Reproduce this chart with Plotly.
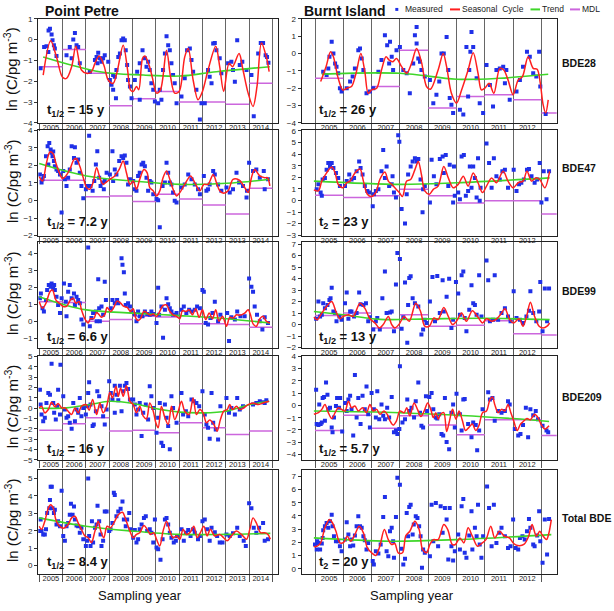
import plotly.graph_objects as go

FONT = "Liberation Sans, Arial, sans-serif"

years_pp = list(range(2005, 2015))
years_bi = list(range(2005, 2014))

# ---------------- Point Petre, BDE28 ----------------
pp28_meas = [(2005.06,-1.38),(2005.21,-0.35),(2005.31,-0.32),(2005.4,0.44),(2005.46,0.52),(2005.53,0.25),(2005.57,-0.03),(2005.63,-0.27),(2005.67,-0.43),(2005.74,-0.79),(2005.39,-0.59),
(2006.17,-0.75),(2006.31,-0.35),(2006.46,0.0),(2006.53,0.32),(2006.6,-0.27),(2006.67,-0.35),(2006.74,-1.14),(2006.39,-0.9),
(2007.17,-1.54),(2007.39,-0.98),(2007.46,-0.83),(2007.53,-0.63),(2007.6,-0.9),(2007.67,-1.06),(2007.74,-0.9),(2007.81,-0.75),(2007.5,-1.14),
(2007.96,-1.06),(2008.03,-1.94),(2008.1,-2.17),(2008.17,-1.7),(2008.24,-1.78),(2008.31,-1.46),(2008.39,-0.83),(2008.46,-0.67),(2008.53,-0.03),(2008.6,0.05),(2008.67,-0.03),(2008.71,-0.51),(2008.77,-1.22),(2008.81,-1.94),(2008.89,-2.25),(2008.96,-2.81),(2008.29,-2.81),(2008.17,-2.41),
(2009.1,-1.94),(2009.2,-1.54),(2009.31,-1.14),(2009.43,-0.51),(2009.53,-0.9),(2009.6,-1.3),(2009.67,-1.06),(2009.74,-1.46),(2009.81,-2.1),(2009.89,-2.41),(2009.31,-2.89),(2009.96,-2.97),
(2010.1,-3.05),(2010.17,-2.41),(2010.31,-1.46),(2010.39,-0.67),(2010.46,0.16),(2010.53,-0.27),(2010.6,-0.51),(2010.67,-1.14),(2010.74,-1.7),(2010.81,-2.1),(2010.89,-3.05),(2010.24,-2.89),
(2011.1,-2.73),(2011.24,-1.86),(2011.34,-0.51),(2011.46,-0.43),(2011.53,-0.98),(2011.6,-1.54),(2011.74,-2.41),(2011.89,-3.84),(2011.96,-3.05),
(2012.1,-3.05),(2012.24,-1.46),(2012.31,-1.78),(2012.39,-2.1),(2012.46,-0.19),(2012.53,-0.16),(2012.6,-0.51),(2012.74,-0.9),(2012.81,-1.62),
(2013.1,-1.14),(2013.24,-1.06),(2013.31,-1.46),(2013.39,-2.02),(2013.49,-0.03),(2013.6,-1.22),(2013.71,-1.06),(2013.89,-1.46),
(2014.1,-1.7),(2014.2,-3.68),(2014.39,-0.67),(2014.5,-0.16),(2014.6,-0.16),(2014.71,-0.75),(2014.77,-0.83),(2014.83,-1.11)]
pp28_seas = [(2005.17,-1.7),(2005.49,-0.06),(2005.74,-0.83),(2006.0,-1.81),(2006.17,-1.86),(2006.39,-1.3),(2006.57,-0.32),(2006.81,-1.46),(2007.03,-1.62),(2007.24,-1.54),
(2007.39,-1.14),(2007.57,-0.79),(2007.77,-1.22),(2007.96,-1.94),(2008.17,-2.1),(2008.34,-1.54),(2008.6,-0.27),(2008.79,-1.46),(2008.91,-2.41),(2009.03,-2.49),(2009.17,-2.25),(2009.27,-2.41),
(2009.43,-0.9),(2009.53,-0.79),(2009.71,-1.22),(2009.86,-1.86),(2010.03,-2.57),(2010.2,-2.41),(2010.46,-0.51),(2010.63,-1.78),(2010.81,-2.57),(2011.0,-2.49),(2011.24,-0.83),(2011.39,-0.43),
(2011.6,-1.94),(2011.81,-2.89),(2012.0,-2.49),(2012.24,-1.46),(2012.57,-0.32),(2012.74,-1.3),(2012.91,-2.49),(2013.14,-1.14),(2013.29,-1.3),(2013.57,-0.67),(2013.74,-1.46),(2013.96,-2.57),
(2014.17,-3.21),(2014.34,-2.25),(2014.53,-0.16),(2014.74,-0.83),(2014.86,-1.54)]
pp28_trend = [(2005.17,-0.83),(2007.6,-1.54),(2009.46,-1.7),(2011.03,-1.75),(2012.6,-1.54),(2014.89,-1.3)]
pp28_mdl = [-1.30,-0.48,-1.62,-3.17,-2.84,-2.49,-3.0,-3.0,-3.1,-2.1]

# ---------------- Burnt Island, BDE28 ----------------
bi28_meas = [(2005.29,-1.05),(2005.41,-1.24),(2005.51,-0.19),(2005.59,0.67),(2005.65,0.0),(2005.71,-0.57),(2005.76,-0.76),(2005.82,-1.14),(2005.88,-2.0),(2005.94,-2.19),(2005.47,-0.86),
(2006.12,-2.0),(2006.24,-1.62),(2006.33,-1.33),(2006.41,-0.86),(2006.53,0.19),(2006.59,0.29),(2006.65,-0.29),(2006.71,-0.95),(2006.82,-2.29),(2006.94,-2.19),
(2007.06,-2.0),(2007.24,-1.05),(2007.35,-0.38),(2007.47,1.05),(2007.55,0.48),(2007.62,-0.57),(2007.71,-0.19),(2007.76,-0.95),(2007.88,0.19),(2008.0,0.38),(2007.65,0.67),
(2008.12,-0.95),(2008.24,-1.14),(2008.35,-2.29),(2008.47,-0.57),(2008.53,1.05),(2008.59,0.57),(2008.65,-0.29),(2008.71,-0.48),(2008.76,-0.95),(2008.59,1.52),(2008.88,-1.33),
(2009.06,-1.52),(2009.18,-2.86),(2009.29,-2.38),(2009.39,-1.62),(2009.47,0.0),(2009.55,0.0),(2009.65,0.95),(2009.71,-0.95),(2009.76,-2.57),(2009.88,-3.43),(2009.82,-2.95),
(2010.12,-3.24),(2010.24,-3.52),(2010.35,0.38),(2010.45,-0.95),(2010.49,0.1),(2010.53,1.24),(2010.59,0.38),(2010.71,-1.43),(2010.82,-2.86),(2010.94,-3.43),(2010.41,-2.48),
(2011.06,-0.67),(2011.18,-1.81),(2011.29,-3.05),(2011.41,-0.95),(2011.53,-0.86),(2011.65,-0.76),(2011.76,-0.95),(2011.88,-2.67),(2011.71,-1.71),
(2012.12,-2.19),(2012.24,-1.52),(2012.35,-0.76),(2012.49,0.1),(2012.59,-0.19),(2012.71,-1.14),(2012.82,-1.33),(2012.92,0.1),(2012.96,-1.9),(2013.15,-3.49)]
bi28_seas = [(2005.2,-1.62),(2005.39,-0.76),(2005.55,0.1),(2005.65,-0.19),(2005.82,-1.43),(2005.98,-2.1),(2006.12,-2.0),(2006.29,-1.9),(2006.45,-1.14),(2006.62,0.0),(2006.76,-1.05),
(2006.88,-2.29),(2007.0,-2.1),(2007.18,-2.0),(2007.35,-0.95),(2007.51,-0.19),(2007.62,-0.38),(2007.74,-0.48),(2007.88,-0.29),(2008.06,-0.76),(2008.24,-1.14),(2008.41,-0.57),
(2008.59,0.29),(2008.76,-0.48),(2008.94,-1.9),(2009.08,-2.06),(2009.35,-0.95),(2009.53,0.0),(2009.65,-0.76),(2009.82,-2.29),(2010.0,-2.86),(2010.18,-2.1),(2010.41,-0.95),
(2010.59,0.04),(2010.76,-1.14),(2010.88,-2.1),(2011.0,-2.0),(2011.15,-1.71),(2011.32,-2.29),(2011.53,-0.86),(2011.67,-0.95),(2011.82,-1.52),(2012.0,-2.38),(2012.18,-1.52),
(2012.33,-1.33),(2012.53,-0.19),(2012.71,-0.86),(2012.85,-0.91),(2012.96,-1.71),(2013.06,-2.95),(2013.15,-3.43),(2013.24,-2.67)]
bi28_trend = [(2005.24,-1.19),(2008.0,-1.14),(2010.0,-1.48),(2011.5,-1.43),(2013.24,-1.2)]
bi28_mdl = [-1.43,None,-1.9,0.19,-3.14,-2.48,-2.38,-2.67,-3.43]

# ---------------- Point Petre, BDE47 ----------------
pp47_meas = [(2005.03,1.49),(2005.1,1.02),(2005.14,1.21),(2005.2,1.4),(2005.29,2.53),(2005.36,3.09),(2005.43,3.28),(2005.49,2.91),(2005.53,2.72),(2005.57,2.53),(2005.63,2.25),(2005.67,1.96),(2005.74,1.77),(2005.81,1.68),(2005.89,1.49),(2005.39,2.06),(2005.6,2.8),
(2006.03,1.68),(2006.1,1.21),(2006.17,0.83),(2006.31,1.77),(2006.39,3.09),(2006.49,2.43),(2006.53,3.04),(2006.6,2.15),(2006.67,2.34),(2006.74,1.58),(2006.81,0.83),(2006.89,0.13),(2005.96,-0.68),(2006.24,1.3),
(2007.0,0.64),(2007.06,0.83),(2007.14,3.7),(2007.2,0.83),(2007.29,0.55),(2007.36,1.11),(2007.43,2.06),(2007.49,2.81),(2007.57,1.3),(2007.63,0.83),(2007.71,1.02),(2007.81,1.11),(2007.89,1.58),(2007.77,0.64),
(2008.03,1.49),(2008.14,2.81),(2008.24,1.77),(2008.31,1.49),(2008.43,2.25),(2008.53,2.53),(2008.6,2.43),(2008.67,2.57),(2008.74,2.15),(2008.81,0.92),(2008.89,1.21),(2008.17,1.11),
(2009.03,1.11),(2009.1,0.64),(2009.17,0.55),(2009.24,1.4),(2009.31,1.58),(2009.39,2.06),(2009.46,2.15),(2009.53,1.96),(2009.6,1.3),(2009.67,0.55),(2009.74,1.11),(2009.81,1.02),(2009.89,0.36),
(2010.03,0.08),(2010.1,0.02),(2010.17,-1.53),(2010.29,0.83),(2010.39,1.02),(2010.46,2.15),(2010.53,1.58),(2010.6,1.02),(2010.67,0.92),(2010.74,0.45),(2010.81,-0.02),(2010.89,-0.11),
(2011.1,0.74),(2011.24,0.92),(2011.39,1.49),(2011.53,1.21),(2011.67,0.92),(2011.81,0.64),(2011.89,0.36),
(2012.06,1.4),(2012.17,0.55),(2012.24,0.64),(2012.31,0.92),(2012.46,1.68),(2012.53,1.49),(2012.67,0.92),(2012.81,0.55),
(2013.03,0.74),(2013.17,0.45),(2013.31,0.64),(2013.46,1.58),(2013.57,1.02),(2013.74,0.83),(2013.89,0.17),(2013.91,0.55),
(2014.0,2.15),(2014.17,1.68),(2014.31,1.77),(2014.46,1.3),(2014.63,1.68),(2014.67,0.64),(2014.81,1.21)]
pp47_seas = [(2005.0,1.36),(2005.14,1.11),(2005.31,2.15),(2005.46,2.77),(2005.6,2.66),(2005.71,2.15),(2005.86,1.58),(2006.0,1.25),(2006.14,1.4),(2006.31,1.77),(2006.49,2.34),
(2006.6,2.38),(2006.74,1.96),(2006.93,1.11),(2007.03,0.74),(2007.17,0.64),(2007.31,1.02),(2007.46,1.87),(2007.6,1.3),(2007.74,0.92),(2007.89,1.06),(2008.03,1.21),(2008.24,1.4),
(2008.43,1.77),(2008.6,2.25),(2008.74,1.58),(2008.89,0.92),(2009.03,1.11),(2009.17,0.64),(2009.31,1.21),(2009.49,1.77),(2009.63,1.58),(2009.74,0.74),(2009.89,0.55),(2010.03,0.26),
(2010.17,0.55),(2010.31,1.3),(2010.46,1.68),(2010.6,1.21),(2010.74,0.64),(2010.89,0.26),(2011.03,0.45),(2011.24,0.92),(2011.49,1.4),(2011.67,1.02),(2011.89,0.55),(2012.06,0.92),
(2012.24,0.92),(2012.46,1.49),(2012.6,1.02),(2012.74,0.55),(2012.91,0.42),(2013.1,0.55),(2013.31,1.21),(2013.57,1.17),(2013.81,0.74),(2013.96,0.45),(2014.1,1.3),(2014.24,1.77),
(2014.46,1.4),(2014.67,1.3),(2014.79,1.3),(2014.89,0.83)]
pp47_trend = [(2005.0,2.11),(2007.03,1.4),(2009.03,1.11),(2011.03,0.92),(2013.03,0.98),(2014.89,1.21)]
pp47_mdl = [1.15,1.15,0.21,0.26,-0.06,0.36,0.08,-0.26,-0.77,0.7]

# ---------------- Burnt Island, BDE47 ----------------
bi47_meas = [(2005.06,0.96),(2005.12,1.39),(2005.2,0.68),(2005.27,1.81),(2005.35,1.95),(2005.41,2.66),(2005.47,3.23),(2005.53,2.94),(2005.59,3.23),(2005.65,2.8),(2005.74,2.38),(2005.82,1.95),(2005.88,1.24),(2005.24,0.4),
(2006.06,1.24),(2006.12,1.67),(2006.21,2.24),(2006.29,1.81),(2006.38,1.95),(2006.47,2.52),(2006.56,3.37),(2006.61,2.8),(2006.68,2.24),(2006.76,1.24),(2006.85,0.82),(2006.92,0.68),
(2007.04,-0.51),(2007.08,0.54),(2007.15,0.82),(2007.24,0.96),(2007.35,2.52),(2007.41,4.36),(2007.47,1.95),(2007.53,2.94),(2007.62,1.24),(2007.71,1.39),(2007.79,0.68),(2007.86,0.25),(2007.94,5.63),(2007.98,5.07),(2007.74,2.1),
(2008.06,-0.74),(2008.18,-2.0),(2008.24,0.54),(2008.29,2.24),(2008.38,2.94),(2008.45,3.37),(2008.53,3.65),(2008.59,3.37),(2008.65,3.57),(2008.73,1.81),(2008.8,-1.02),(2008.82,0.96),(2008.88,1.24),
(2009.06,-0.17),(2009.12,3.51),(2009.2,2.1),(2009.29,1.39),(2009.41,3.57),(2009.51,3.79),(2009.55,2.38),(2009.62,3.93),(2009.71,1.24),(2009.76,3.08),(2009.88,-0.17),(2009.94,0.4),(2009.91,2.94),
(2010.06,0.68),(2010.12,0.11),(2010.18,3.79),(2010.26,3.93),(2010.33,0.4),(2010.41,0.82),(2010.47,2.94),(2010.53,1.1),(2010.59,2.94),(2010.65,1.95),(2010.71,0.25),(2010.76,3.65),(2010.82,-0.03),(2010.85,1.1),
(2011.06,4.93),(2011.15,3.23),(2011.24,1.1),(2011.32,3.65),(2011.41,2.1),(2011.53,1.81),(2011.62,2.52),(2011.71,2.66),(2011.82,1.1),
(2012.02,2.66),(2012.12,0.82),(2012.21,1.39),(2012.29,1.53),(2012.38,1.81),(2012.49,2.66),(2012.56,2.72),(2012.65,2.1),(2012.76,1.53),(2012.85,1.81),(2012.94,3.23),(2013.0,-0.17),
(2013.08,2.52),(2013.18,0.11),(2013.27,2.52)]
bi47_seas = [(2004.96,0.91),(2005.12,0.82),(2005.24,1.67),(2005.41,2.38),(2005.59,2.89),(2005.71,2.38),(2005.82,1.39),(2005.98,1.1),(2006.12,1.53),(2006.24,1.67),(2006.41,2.38),
(2006.59,2.72),(2006.71,1.67),(2006.85,0.54),(2007.0,0.34),(2007.15,0.68),(2007.29,1.81),(2007.47,2.46),(2007.59,1.67),(2007.71,1.39),(2007.82,1.1),(2007.98,0.68),(2008.09,0.34),
(2008.24,1.67),(2008.38,1.81),(2008.53,2.66),(2008.65,3.37),(2008.76,2.24),(2008.88,0.82),(2009.04,0.54),(2009.18,0.96),(2009.35,1.24),(2009.55,2.94),(2009.71,1.95),(2009.88,1.1),
(2010.06,1.39),(2010.24,2.1),(2010.41,1.24),(2010.59,2.38),(2010.76,1.53),(2010.92,0.68),(2011.06,1.24),(2011.24,1.95),(2011.41,1.53),(2011.65,2.52),(2011.82,1.67),(2012.0,1.1),
(2012.18,1.53),(2012.35,1.67),(2012.49,2.52),(2012.65,1.67),(2012.8,1.95),(2012.94,1.81),(2013.12,1.1),(2013.29,2.52)]
bi47_trend = [(2004.96,1.67),(2008.0,1.39),(2010.0,1.53),(2013.29,1.95)]
bi47_mdl = [0.45,0.25,0.4,0.96,0.4,-0.23,-0.03,-0.03,-1.16]

# ---------------- Point Petre, BDE99 ----------------
pp99_meas = [(2005.03,1.35),(2005.07,1.63),(2005.14,0.77),(2005.2,0.58),(2005.29,1.25),(2005.34,1.83),(2005.41,2.12),(2005.49,2.02),(2005.53,2.21),(2005.6,1.92),(2005.64,2.12),(2005.67,1.83),(2005.74,1.44),(2005.81,0.96),(2005.89,0.48),(2005.96,1.35),
(2006.06,2.21),(2006.14,1.15),(2006.24,1.73),(2006.31,2.12),(2006.39,1.35),(2006.49,1.63),(2006.53,0.96),(2006.6,1.44),(2006.67,1.25),(2006.74,1.06),(2006.81,0.1),(2006.89,-0.19),(2006.17,0.29),
(2007.1,4.33),(2007.17,-0.29),(2007.24,0.19),(2007.31,0.48),(2007.43,0.58),(2007.53,2.46),(2007.57,0.77),(2007.67,0.87),(2007.74,0.38),(2007.81,2.31),(2007.86,1.25),(2007.46,0.0),(2007.6,0.0),
(2008.07,0.77),(2008.14,1.25),(2008.24,1.06),(2008.34,1.25),(2008.39,1.06),(2008.53,3.69),(2008.57,3.31),(2008.63,2.88),(2008.67,1.63),(2008.71,0.96),(2008.81,1.06),(2008.89,0.87),(2008.96,0.58),
(2009.1,0.42),(2009.17,0.0),(2009.24,0.58),(2009.31,0.29),(2009.43,0.29),(2009.53,0.58),(2009.63,0.42),(2009.74,0.38),(2009.81,0.58),(2009.89,0.42),
(2010.03,-0.1),(2010.1,1.96),(2010.14,0.38),(2010.24,0.87),(2010.31,-0.96),(2010.39,0.67),(2010.46,1.35),(2010.53,1.0),(2010.6,0.77),(2010.67,0.58),(2010.74,0.38),(2010.89,0.48),
(2011.1,0.67),(2011.2,0.87),(2011.31,0.48),(2011.43,0.67),(2011.53,0.58),(2011.67,0.67),(2011.77,0.87),(2011.89,0.77),
(2012.0,1.83),(2012.06,1.73),(2012.14,-0.1),(2012.24,-0.19),(2012.34,0.19),(2012.43,0.48),(2012.53,1.15),(2012.67,0.0),(2012.77,0.38),
(2013.06,0.48),(2013.14,-1.15),(2013.24,0.23),(2013.39,0.1),(2013.49,0.58),(2013.63,0.29),(2013.81,0.29),
(2014.0,2.5),(2014.1,2.02),(2014.17,1.73),(2014.24,0.87),(2014.34,0.38),(2014.46,0.0),(2014.57,-0.48),(2014.67,0.23),(2014.81,-0.1)]
pp99_seas = [(2005.0,1.15),(2005.14,0.77),(2005.29,1.06),(2005.46,1.73),(2005.57,1.83),(2005.71,1.25),(2005.86,1.06),(2006.03,0.87),(2006.17,0.87),(2006.34,1.25),(2006.46,1.35),
(2006.57,1.06),(2006.71,1.15),(2006.81,0.67),(2006.91,0.29),(2007.0,0.04),(2007.1,-0.1),(2007.2,0.15),(2007.34,0.15),(2007.46,0.52),(2007.57,0.38),(2007.67,0.23),(2007.81,0.38),
(2007.91,0.81),(2008.06,0.58),(2008.2,0.81),(2008.34,1.19),(2008.49,1.06),(2008.63,0.87),(2008.77,0.81),(2008.91,0.58),(2009.03,0.73),(2009.14,0.19),(2009.24,0.04),(2009.34,0.15),
(2009.49,0.58),(2009.63,0.48),(2009.77,0.35),(2009.89,0.42),(2010.03,0.29),(2010.17,0.58),(2010.31,0.92),(2010.46,0.96),(2010.6,0.58),(2010.74,0.38),(2010.89,0.29),(2011.03,0.15),
(2011.14,0.62),(2011.29,0.58),(2011.43,0.67),(2011.57,0.38),(2011.71,0.73),(2011.86,0.23),(2012.0,0.67),(2012.14,0.1),(2012.29,0.48),(2012.43,0.15),(2012.57,0.67),(2012.71,0.0),
(2012.86,0.29),(2013.03,-0.29),(2013.17,0.23),(2013.31,0.19),(2013.46,0.38),(2013.6,0.35),(2013.81,0.48),(2013.96,0.67),(2014.06,0.38),(2014.17,-0.15),(2014.31,-0.29),(2014.46,0.15),
(2014.6,0.29),(2014.74,0.0),(2014.89,-0.1)]
pp99_trend = [(2005.0,1.44),(2006.0,1.0),(2007.03,0.67),(2009.03,0.48),(2011.03,0.33),(2013.03,0.15),(2014.89,-0.1)]
pp99_mdl = [1.15,1.1,0.0,0.1,0.3,0.25,-0.15,-0.15,-0.19,-0.35]

# ---------------- Burnt Island, BDE99 ----------------
bi99_meas = [(2005.04,0.51),(2005.12,2.0),(2005.18,0.71),(2005.24,0.86),(2005.29,1.86),(2005.35,1.43),(2005.44,1.71),(2005.51,2.14),(2005.55,2.29),(2005.59,3.2),(2005.65,1.14),(2005.71,1.0),(2005.76,0.29),(2005.86,0.71),(2005.94,0.43),
(2006.06,1.86),(2006.12,2.8),(2006.18,0.51),(2006.24,1.14),(2006.29,1.14),(2006.38,0.71),(2006.47,1.0),(2006.56,2.8),(2006.61,1.77),(2006.71,1.71),(2006.8,1.86),(2006.88,0.29),(2006.94,0.63),
(2007.06,-0.43),(2007.15,0.29),(2007.2,0.57),(2007.29,-0.43),(2007.38,2.29),(2007.47,4.63),(2007.53,1.0),(2007.65,1.06),(2007.71,1.14),(2007.79,-0.57),(2007.86,3.49),(2007.91,6.23),(2008.0,5.71),
(2008.06,-0.37),(2008.12,0.63),(2008.18,3.66),(2008.26,-1.57),(2008.29,1.71),(2008.33,4.06),(2008.38,4.2),(2008.45,2.29),(2008.53,1.86),(2008.65,1.57),(2008.76,-0.86),(2008.82,-0.43),(2008.88,0.43),(2008.94,0.14),
(2009.06,2.0),(2009.15,4.14),(2009.24,0.29),(2009.32,4.23),(2009.41,1.0),(2009.51,3.86),(2009.55,1.14),(2009.65,2.43),(2009.74,4.0),(2009.82,-0.29),(2009.88,0.43),(2009.98,3.71),
(2010.06,2.71),(2010.12,0.86),(2010.18,4.29),(2010.24,4.63),(2010.29,0.57),(2010.35,-0.57),(2010.45,1.29),(2010.53,3.43),(2010.59,1.86),(2010.65,1.71),(2010.71,0.86),(2010.8,4.29),(2010.88,0.71),
(2011.06,5.57),(2011.12,3.86),(2011.18,0.29),(2011.29,0.43),(2011.35,4.29),(2011.47,0.43),(2011.59,1.0),(2011.71,1.43),(2011.82,0.71),(2011.91,0.29),
(2012.02,2.91),(2012.12,0.57),(2012.24,0.43),(2012.35,0.14),(2012.47,0.71),(2012.56,1.2),(2012.61,2.91),(2012.71,1.0),(2012.82,0.29),(2012.92,1.14),(2012.96,3.71),
(2013.04,-0.57),(2013.12,3.14),(2013.2,0.29),(2013.27,3.14)]
bi99_seas = [(2004.96,0.63),(2005.08,0.43),(2005.24,1.0),(2005.41,1.57),(2005.59,2.0),(2005.74,1.14),(2005.88,0.51),(2006.0,0.71),(2006.18,0.86),(2006.35,0.71),(2006.59,1.86),
(2006.76,1.43),(2006.94,0.51),(2007.12,0.14),(2007.27,-0.29),(2007.41,0.0),(2007.59,0.71),(2007.71,0.0),(2007.82,-0.29),(2007.98,0.06),(2008.15,0.71),(2008.33,0.29),(2008.56,1.86),
(2008.73,1.14),(2008.88,-0.14),(2009.04,-0.14),(2009.2,0.57),(2009.35,0.43),(2009.55,1.49),(2009.71,0.71),(2009.86,0.0),(2010.0,0.29),(2010.18,1.0),(2010.35,0.29),(2010.56,1.2),
(2010.76,0.63),(2010.92,0.14),(2011.06,0.51),(2011.24,0.29),(2011.39,0.43),(2011.55,0.86),(2011.71,1.37),(2011.88,0.43),(2012.02,0.14),(2012.21,0.51),(2012.35,-0.14),(2012.49,0.86),
(2012.61,1.94),(2012.76,0.71),(2012.92,-0.14),(2013.06,-0.29),(2013.2,-0.14),(2013.29,0.14)]
bi99_trend = [(2004.96,1.14),(2006.0,0.85),(2007.3,0.45),(2009.0,0.5),(2011.0,0.55),(2013.29,0.43)]
bi99_mdl = [0.8,1.0,-0.29,0.86,-0.14,-0.06,0.34,-0.8,-0.91]

# ---------------- Point Petre, BDE209 ----------------
pp209_meas = [(2005.03,1.79),(2005.06,0.35),(2005.1,-0.61),(2005.17,-1.25),(2005.24,-0.93),(2005.31,0.51),(2005.39,1.47),(2005.46,1.31),(2005.53,4.29),(2005.6,0.51),(2005.64,-0.45),(2005.71,-1.09),(2005.77,0.19),(2005.81,1.79),(2005.89,-0.61),(2005.91,4.2),
(2006.03,1.15),(2006.1,-0.13),(2006.17,-0.93),(2006.24,-0.77),(2006.31,-1.41),(2006.39,-1.99),(2006.46,0.51),(2006.53,-1.25),(2006.6,-0.13),(2006.67,-0.45),(2006.74,0.99),(2006.81,-0.77),(2006.89,0.03),
(2007.0,-0.61),(2007.06,0.19),(2007.1,1.47),(2007.14,2.5),(2007.2,0.35),(2007.29,-1.73),(2007.34,-1.57),(2007.43,-0.29),(2007.49,1.63),(2007.57,1.15),(2007.67,0.19),(2007.74,-0.77),(2007.81,-1.57),(2007.89,-0.13),
(2008.0,2.6),(2008.07,1.47),(2008.14,0.83),(2008.24,2.18),(2008.31,1.31),(2008.39,0.77),(2008.46,2.18),(2008.53,-0.29),(2008.6,1.63),(2008.67,2.18),(2008.74,2.44),(2008.81,1.86),(2008.89,0.83),(2008.24,-0.45),
(2009.03,0.83),(2009.1,0.35),(2009.17,-0.61),(2009.24,-0.13),(2009.31,0.51),(2009.39,-2.69),(2009.46,-0.45),(2009.57,0.35),(2009.67,-1.09),(2009.74,2.12),(2009.81,1.15),(2009.89,0.03),
(2010.03,-2.37),(2010.1,-0.93),(2010.17,0.51),(2010.24,-3.33),(2010.31,-3.65),(2010.39,0.35),(2010.46,-0.93),(2010.53,-1.73),(2010.6,-3.97),(2010.67,1.15),(2010.74,0.03),(2010.89,-1.41),
(2011.1,1.47),(2011.17,-0.61),(2011.29,-0.29),(2011.39,-0.77),(2011.53,0.83),(2011.63,0.67),(2011.74,0.51),(2011.86,0.19),
(2012.0,1.63),(2012.1,-0.61),(2012.17,-1.57),(2012.24,-1.89),(2012.31,-2.95),(2012.39,1.47),(2012.46,-1.41),(2012.57,-2.05),(2012.67,-3.01),(2012.77,0.19),
(2013.03,0.99),(2013.14,-0.45),(2013.24,0.03),(2013.39,-0.61),(2013.49,0.99),(2013.6,-0.13),(2013.74,0.19),
(2014.17,0.35),(2014.31,0.51),(2014.46,0.67),(2014.6,0.58),(2014.67,0.51),(2014.74,0.77)]
pp209_seas = [(2005.0,0.03),(2005.1,0.19),(2005.24,-0.45),(2005.39,-0.13),(2005.53,0.58),(2005.67,0.13),(2005.81,0.45),(2005.96,0.03),(2006.1,0.03),(2006.24,-0.29),(2006.39,-0.61),
(2006.53,0.03),(2006.67,-0.45),(2006.81,0.19),(2007.0,0.35),(2007.14,-0.19),(2007.29,0.83),(2007.46,-0.61),(2007.6,0.51),(2007.74,-0.45),(2007.89,0.19),(2008.03,1.54),(2008.14,0.99),
(2008.29,2.12),(2008.39,1.15),(2008.49,1.96),(2008.6,1.15),(2008.74,2.18),(2008.89,0.67),(2009.03,0.35),(2009.17,-0.45),(2009.31,0.19),(2009.46,-0.77),(2009.6,-1.03),(2009.74,0.51),
(2009.89,-0.29),(2010.0,-1.41),(2010.1,-1.89),(2010.24,0.19),(2010.39,-0.93),(2010.53,-1.57),(2010.67,0.19),(2010.81,-1.09),(2010.96,-0.29),(2011.1,0.67),(2011.24,-0.29),(2011.43,-0.61),
(2011.6,0.99),(2011.74,-0.61),(2011.89,-0.13),(2012.03,-0.45),(2012.17,-1.41),(2012.31,-1.15),(2012.49,-1.57),(2012.63,-2.21),(2012.77,-1.09),(2012.91,-0.29),(2013.06,-0.13),
(2013.17,0.35),(2013.29,-0.13),(2013.46,0.19),(2013.6,-0.13),(2013.77,0.03),(2013.96,0.35),(2014.17,0.51),(2014.39,0.35),(2014.6,0.51),(2014.86,0.67)]
pp209_trend = [(2005.0,0.0),(2006.17,0.03),(2007.17,0.35),(2008.03,0.67),(2009.03,0.45),(2010.03,-0.06),(2011.03,-0.38),(2012.03,-0.45),(2013.03,-0.29),(2014.03,0.35),(2014.86,0.67)]
pp209_mdl = [-2.12,-1.51,-0.93,-2.21,-2.12,-2.37,-1.41,-1.89,-2.53,-2.21]

# ---------------- Burnt Island, BDE209 ----------------
bi209_meas = [(2005.04,1.28),(2005.06,-1.52),(2005.12,-1.6),(2005.15,0.08),(2005.2,-1.52),(2005.24,-1.39),(2005.27,0.61),(2005.32,0.69),(2005.35,-1.25),(2005.39,1.87),(2005.44,0.88),(2005.47,-0.32),(2005.53,-0.19),(2005.59,-1.79),(2005.62,-2.19),(2005.67,-0.99),(2005.74,-0.05),(2005.78,0.61),(2005.85,-0.19),(2005.89,0.61),(2005.96,-2.13),
(2006.06,0.21),(2006.12,-0.45),(2006.18,0.48),(2006.24,0.8),(2006.29,-0.32),(2006.35,-2.45),(2006.41,2.48),(2006.47,-0.99),(2006.53,0.61),(2006.61,-1.52),(2006.68,0.8),(2006.76,-0.32),(2006.82,1.55),(2006.88,-0.72),(2006.94,-1.79),(2007.0,1.01),
(2007.08,-0.32),(2007.15,-0.99),(2007.2,1.15),(2007.27,-1.12),(2007.35,0.08),(2007.41,-0.85),(2007.47,-1.12),(2007.55,-0.19),(2007.62,-0.99),(2007.71,0.69),(2007.79,-2.19),(2007.86,-2.05),(2007.91,-2.32),(2007.98,-1.92),(2008.0,3.2),
(2008.09,-1.39),(2008.18,-1.12),(2008.26,0.48),(2008.33,-0.45),(2008.41,-0.19),(2008.5,-0.99),(2008.56,0.35),(2008.65,1.87),(2008.71,-0.59),(2008.76,-1.65),(2008.82,-1.79),(2008.92,0.75),(2008.96,-0.45),
(2009.04,0.69),(2009.12,1.01),(2009.18,-0.32),(2009.27,-0.99),(2009.32,-1.07),(2009.39,-0.72),(2009.47,-2.32),(2009.53,-2.45),(2009.59,0.61),(2009.65,-2.99),(2009.74,-3.57),(2009.82,-0.59),(2009.88,0.08),(2009.94,-1.79),(2010.0,0.96),
(2010.12,-0.72),(2010.18,-2.05),(2010.24,0.48),(2010.29,0.53),(2010.41,-1.52),(2010.53,-2.59),(2010.59,-1.39),(2010.68,-1.6),(2010.73,-3.65),(2010.8,-2.05),(2010.92,-0.32),
(2011.12,1.07),(2011.18,0.48),(2011.27,0.61),(2011.35,-1.25),(2011.47,-0.45),(2011.59,-0.59),(2011.71,-0.45),(2011.82,0.35),(2011.88,0.08),
(2012.06,-1.92),(2012.18,-2.45),(2012.26,-2.32),(2012.35,-1.6),(2012.45,-0.19),(2012.53,-2.59),(2012.61,-0.32),(2012.71,-0.8),(2012.8,-0.45),(2012.88,-1.12),
(2013.04,-1.65),(2013.18,-2.05),(2013.24,-2.19)]
bi209_seas = [(2004.96,-0.72),(2005.12,-0.59),(2005.24,-0.32),(2005.35,0.08),(2005.47,-0.59),(2005.59,-1.07),(2005.71,-0.59),(2005.82,-0.19),(2005.94,-0.32),(2006.06,-0.45),
(2006.18,0.35),(2006.29,-0.19),(2006.41,-0.05),(2006.53,-0.45),(2006.68,-0.19),(2006.82,-0.59),(2006.94,0.08),(2007.06,-0.45),(2007.18,-0.32),(2007.29,-0.72),(2007.44,-0.45),
(2007.55,-0.72),(2007.65,-1.25),(2007.76,-1.6),(2007.88,-1.25),(2008.0,-0.45),(2008.15,-0.59),(2008.24,-0.19),(2008.35,-0.85),(2008.5,0.21),(2008.62,-0.32),(2008.74,-0.91),
(2008.86,-0.45),(2008.98,0.21),(2009.09,-0.32),(2009.18,-0.99),(2009.27,-0.59),(2009.35,-1.12),(2009.44,-0.72),(2009.55,-0.59),(2009.65,-2.13),(2009.74,-1.39),(2009.86,-0.32),
(2009.98,-1.12),(2010.09,-0.45),(2010.21,-1.25),(2010.32,-2.05),(2010.44,-1.79),(2010.56,-1.52),(2010.68,-2.05),(2010.79,-1.65),(2010.92,-0.59),(2011.06,-0.45),(2011.18,0.48),
(2011.27,0.69),(2011.35,0.08),(2011.47,-0.59),(2011.59,-0.32),(2011.71,-0.45),(2011.82,0.08),(2011.92,-0.59),(2012.02,-1.25),(2012.14,-2.05),(2012.26,-1.52),(2012.35,-1.33),
(2012.49,-1.07),(2012.61,-1.17),(2012.76,-0.72),(2012.88,-0.99),(2013.0,-1.6),(2013.12,-1.92),(2013.27,-1.65)]
bi209_trend = [(2004.96,-0.45),(2008.0,-0.59),(2010.0,-0.8),(2012.0,-1.07),(2013.27,-1.31)]
bi209_mdl = [-2.05,-0.8,-1.87,-0.85,-1.6,-2.4,-1.17,-1.17,-2.45]

# ---------------- Point Petre, Total BDE ----------------
pptot_meas = [(2005.03,1.98),(2005.06,2.64),(2005.1,1.98),(2005.17,1.79),(2005.24,1.79),(2005.29,2.08),(2005.34,3.02),(2005.43,3.3),(2005.46,3.77),(2005.49,4.53),(2005.54,4.53),(2005.57,3.3),(2005.63,3.02),(2005.67,3.21),(2005.74,2.36),(2005.81,2.55),(2005.89,2.26),(2005.96,4.3),
(2006.03,1.7),(2006.1,1.42),(2006.17,2.26),(2006.24,2.45),(2006.31,2.92),(2006.36,3.55),(2006.43,2.92),(2006.49,3.4),(2006.53,2.64),(2006.6,2.3),(2006.67,2.26),(2006.74,1.89),(2006.81,2.17),(2006.89,1.51),
(2007.0,1.13),(2007.06,1.42),(2007.1,5.0),(2007.14,1.7),(2007.2,1.13),(2007.26,2.55),(2007.31,1.32),(2007.39,2.17),(2007.46,2.36),(2007.5,3.43),(2007.57,2.55),(2007.63,1.79),(2007.67,1.13),(2007.74,1.42),(2007.81,3.11),(2007.89,3.11),
(2008.0,1.98),(2008.06,2.08),(2008.14,2.45),(2008.2,4.19),(2008.24,4.06),(2008.31,2.83),(2008.39,3.11),(2008.49,3.26),(2008.57,3.68),(2008.63,2.64),(2008.71,2.26),(2008.77,2.64),(2008.86,3.02),(2008.91,2.08),
(2009.03,1.6),(2009.1,2.04),(2009.17,1.32),(2009.24,1.51),(2009.31,2.08),(2009.39,2.36),(2009.49,2.74),(2009.57,2.83),(2009.63,1.98),(2009.74,2.08),(2009.81,1.89),(2009.89,1.32),(2009.96,2.64),
(2010.03,1.04),(2010.1,0.94),(2010.2,0.34),(2010.29,1.51),(2010.39,2.64),(2010.46,2.74),(2010.53,2.36),(2010.6,1.89),(2010.67,1.6),(2010.77,1.32),(2010.86,1.42),(2010.91,1.7),
(2011.1,2.08),(2011.2,1.42),(2011.29,1.89),(2011.39,2.04),(2011.49,1.7),(2011.6,2.08),(2011.67,1.89),(2011.81,1.51),(2011.89,1.7),
(2012.0,2.55),(2012.1,2.64),(2012.2,2.08),(2012.31,1.42),(2012.39,2.17),(2012.53,1.92),(2012.63,1.7),(2012.74,1.32),(2012.86,1.32),
(2013.03,1.79),(2013.17,1.7),(2013.31,1.85),(2013.49,2.17),(2013.6,1.7),(2013.77,1.42),(2013.86,1.13),
(2014.0,3.58),(2014.1,3.3),(2014.2,2.17),(2014.31,1.89),(2014.43,2.17),(2014.6,2.45),(2014.67,1.42),(2014.81,1.51)]
pptot_seas = [(2005.0,2.26),(2005.1,2.08),(2005.24,2.55),(2005.39,3.3),(2005.49,3.49),(2005.6,3.3),(2005.71,2.64),(2005.81,2.36),(2005.96,2.17),(2006.1,2.17),(2006.24,2.36),
(2006.39,2.74),(2006.53,2.83),(2006.67,2.45),(2006.81,2.08),(2006.96,1.7),(2007.1,1.6),(2007.24,1.32),(2007.39,1.98),(2007.53,2.55),(2007.64,1.98),(2007.77,1.6),(2007.91,2.26),
(2008.06,2.17),(2008.2,2.45),(2008.39,2.92),(2008.57,3.06),(2008.71,2.64),(2008.89,1.98),(2009.03,1.6),(2009.17,1.79),(2009.31,1.89),(2009.49,2.3),(2009.63,2.08),(2009.77,1.79),
(2009.91,1.89),(2010.03,1.51),(2010.17,1.13),(2010.31,1.98),(2010.46,2.55),(2010.6,1.98),(2010.74,1.6),(2010.89,1.7),(2011.03,1.51),(2011.17,2.08),(2011.31,1.79),(2011.46,1.89),
(2011.63,2.26),(2011.77,1.6),(2011.91,1.89),(2012.06,2.26),(2012.2,1.7),(2012.34,2.08),(2012.53,1.7),(2012.74,1.79),(2012.91,1.6),(2013.06,1.42),(2013.24,1.7),(2013.46,1.98),
(2013.67,1.79),(2013.89,1.51),(2014.03,2.08),(2014.17,2.74),(2014.31,2.45),(2014.49,1.89),(2014.67,1.89),(2014.81,1.79),(2014.91,1.51)]
pptot_trend = [(2005.0,2.74),(2007.0,2.26),(2009.0,1.98),(2011.0,1.79),(2013.0,1.79),(2014.91,1.85)]

# ---------------- Burnt Island, Total BDE ----------------
bitot_meas = [(2005.0,1.84),(2005.06,1.46),(2005.08,2.09),(2005.12,1.96),(2005.18,1.46),(2005.24,1.91),(2005.27,2.34),(2005.29,2.92),(2005.35,3.22),(2005.41,3.47),(2005.47,3.1),(2005.53,3.6),(2005.59,4.1),(2005.62,3.22),(2005.67,2.47),(2005.74,2.09),(2005.82,2.09),(2005.88,1.71),(2005.94,1.33),
(2006.06,2.21),(2006.12,3.52),(2006.18,2.59),(2006.24,1.71),(2006.29,2.21),(2006.35,1.76),(2006.41,2.52),(2006.47,3.22),(2006.53,3.98),(2006.59,3.22),(2006.65,3.1),(2006.71,2.47),(2006.76,2.16),(2006.82,1.46),(2006.88,1.96),
(2007.04,0.58),(2007.08,0.32),(2007.15,1.33),(2007.24,1.16),(2007.32,1.84),(2007.41,3.93),(2007.47,5.44),(2007.53,1.33),(2007.59,0.95),(2007.65,2.84),(2007.71,3.1),(2007.76,2.09),(2007.79,0.83),(2007.86,3.93),(2007.91,6.9),(2008.0,6.37),
(2008.06,1.51),(2008.12,0.32),(2008.18,0.75),(2008.24,4.23),(2008.29,2.47),(2008.33,4.68),(2008.38,4.86),(2008.45,2.59),(2008.49,3.35),(2008.56,3.98),(2008.62,3.85),(2008.68,3.22),(2008.73,2.47),(2008.78,0.07),(2008.82,1.46),(2008.88,1.21),
(2009.06,0.95),(2009.12,4.86),(2009.18,2.09),(2009.27,4.99),(2009.35,1.71),(2009.44,4.73),(2009.51,2.72),(2009.59,4.61),(2009.65,3.73),(2009.71,0.7),(2009.76,4.61),(2009.82,1.71),(2009.88,0.63),(2009.94,1.33),
(2010.06,2.59),(2010.12,1.46),(2010.18,4.73),(2010.24,5.29),(2010.29,1.21),(2010.35,0.83),(2010.45,2.52),(2010.53,4.36),(2010.56,1.46),(2010.65,3.1),(2010.71,2.47),(2010.76,4.86),(2010.82,1.84),(2010.88,0.83),(2010.94,2.47),
(2011.08,6.24),(2011.15,4.61),(2011.24,1.71),(2011.32,4.86),(2011.41,1.96),(2011.51,2.72),(2011.59,3.1),(2011.71,2.47),(2011.82,1.58),(2011.91,1.71),
(2012.0,3.73),(2012.09,1.58),(2012.18,1.46),(2012.24,2.34),(2012.33,2.47),(2012.41,2.21),(2012.49,2.84),(2012.56,3.78),(2012.61,3.1),(2012.71,1.84),(2012.76,1.71),(2012.85,2.52),(2012.92,4.36),(2012.96,2.09),
(2013.04,0.45),(2013.12,3.73),(2013.2,1.08),(2013.27,3.78)]
bitot_seas = [(2004.96,1.66),(2005.08,1.71),(2005.2,1.96),(2005.35,3.1),(2005.51,3.73),(2005.62,3.47),(2005.74,2.84),(2005.88,1.96),(2006.02,2.01),(2006.14,2.47),(2006.26,2.09),
(2006.41,2.59),(2006.56,3.22),(2006.71,2.72),(2006.85,1.58),(2007.0,1.21),(2007.15,1.0),(2007.29,1.71),(2007.45,2.97),(2007.59,2.21),(2007.71,1.84),(2007.82,1.91),(2007.94,1.21),
(2008.09,1.21),(2008.21,2.52),(2008.35,2.84),(2008.53,3.6),(2008.68,2.97),(2008.8,1.46),(2008.94,1.21),(2009.06,1.84),(2009.18,2.21),(2009.35,2.21),(2009.55,3.35),(2009.69,2.97),
(2009.85,1.84),(2009.96,1.84),(2010.12,2.34),(2010.26,1.96),(2010.41,3.1),(2010.56,2.47),(2010.74,1.71),(2010.88,1.91),(2011.04,2.21),(2011.21,3.22),(2011.35,2.34),(2011.52,2.84),
(2011.69,2.47),(2011.87,2.34),(2012.02,1.91),(2012.16,1.76),(2012.38,1.84),(2012.55,2.47),(2012.67,3.35),(2012.82,2.47),(2012.94,2.84),(2013.02,2.59),(2013.18,2.21),(2013.26,2.67),
(2013.35,3.73)]
bitot_trend = [(2004.96,2.34),(2007.65,2.09),(2010.0,2.21),(2013.35,2.59)]

# ---------------- panel definitions ----------------
compounds = ["BDE28", "BDE47", "BDE99", "BDE209", "Total BDE"]
pp_half = ["t<sub>1/2</sub> = 15 y", "t<sub>1/2</sub> = 7.2 y", "t<sub>1/2</sub> = 6.6 y", "t<sub>1/2</sub> = 16 y", "t<sub>1/2</sub> = 8.4 y"]
bi_half = ["t<sub>1/2</sub> = 26 y", "t<sub>2</sub> = 23 y", "t<sub>1/2</sub> = 13 y", "t<sub>1/2</sub> = 5.7 y", "t<sub>2</sub> = 20 y"]
pp_yrange = [[-4, 1], [-2, 4], [-1.54, 4.62], [-5, 5], [-0.5, 5.5]]
bi_yrange = [[-4, 2], [-3.03, 6.05], [-2, 7.15], [-4.45, 4], [-0.42, 7.5]]

pp_sets = [(pp28_meas, pp28_seas, pp28_trend, pp28_mdl), (pp47_meas, pp47_seas, pp47_trend, pp47_mdl),
           (pp99_meas, pp99_seas, pp99_trend, pp99_mdl), (pp209_meas, pp209_seas, pp209_trend, pp209_mdl),
           (pptot_meas, pptot_seas, pptot_trend, None)]
bi_sets = [(bi28_meas, bi28_seas, bi28_trend, bi28_mdl), (bi47_meas, bi47_seas, bi47_trend, bi47_mdl),
           (bi99_meas, bi99_seas, bi99_trend, bi99_mdl), (bi209_meas, bi209_seas, bi209_trend, bi209_mdl),
           (bitot_meas, bitot_seas, bitot_trend, None)]

W, H = 614, 611
def px(x): return x / W
def py(y): return 1 - y / H

row_px = [(15, 120.7), (128.3, 235), (242, 348.7), (357.7, 462.8), (472.8, 578.8)]
col_px = [(38.3, 278.0), (301.7, 556.7)]
xranges = [[2004.96, 2015.24], [2004.53, 2013.54]]
years_cols = [years_pp, years_bi]
label_years = [years_pp, years_bi[:-1]]

BLUE = "#1f30e8"
RED = "#ff1f1f"
GREEN = "#3fd62a"
PURPLE = "#cc66dd"

fig = go.Figure()
layout = {}
annotations = []
idx = 0
for r in range(5):
    for c in range(2):
        idx += 1
        sfx = "" if idx == 1 else str(idx)
        meas, seas, trend, mdl = (pp_sets if c == 0 else bi_sets)[r]
        yrs = years_cols[c]
        xa, ya = "x" + sfx, "y" + sfx
        if mdl is not None:
            mx, my = [], []
            for yv, lv in zip(yrs, mdl):
                if lv is None:
                    continue
                mx += [yv, yv + 1, None]
                my += [lv, lv, None]
            fig.add_trace(go.Scatter(x=mx, y=my, mode="lines", line=dict(color=PURPLE, width=1.5),
                                     xaxis=xa, yaxis=ya, showlegend=False, hoverinfo="skip"))
        fig.add_trace(go.Scatter(x=[p[0] for p in meas], y=[p[1] for p in meas], mode="markers",
                                 marker=dict(symbol="square", size=4, color=BLUE, line=dict(width=0)),
                                 xaxis=xa, yaxis=ya, showlegend=False))
        fig.add_trace(go.Scatter(x=[p[0] for p in trend], y=[p[1] for p in trend], mode="lines",
                                 line=dict(color=GREEN, width=1.6, shape="spline"),
                                 xaxis=xa, yaxis=ya, showlegend=False))
        fig.add_trace(go.Scatter(x=[p[0] for p in seas], y=[p[1] for p in seas], mode="lines",
                                 line=dict(color=RED, width=1.5, shape="spline", smoothing=0.9),
                                 xaxis=xa, yaxis=ya, showlegend=False))
        yr = pp_yrange[r] if c == 0 else bi_yrange[r]
        top, bot = row_px[r]
        left, right = col_px[c]
        lyears = label_years[c]
        layout["xaxis" + sfx] = dict(
            domain=[px(left), px(right)], range=xranges[c], anchor=ya,
            tickmode="array", tickvals=[y + 0.5 for y in lyears], ticktext=[str(y) for y in lyears],
            ticks="", tickfont=dict(size=7.5, color="#222", family=FONT), ticklabelstandoff=-3,
            showline=True, mirror=True, linecolor="#222", linewidth=1.4,
            showgrid=False, zeroline=False,
            minor=dict(tickmode="array", tickvals=yrs + [yrs[-1] + 1], ticks="outside", ticklen=7,
                       tickcolor="#555", tickwidth=1.4, showgrid=True, gridcolor="#666", gridwidth=1.3),
        )
        layout["yaxis" + sfx] = dict(
            domain=[py(bot), py(top)], range=yr, anchor=xa,
            dtick=1, ticks="outside", ticklen=3, tickwidth=1, tickcolor="#333",
            tickfont=dict(size=8, color="#222", family=FONT),
            showline=True, mirror=True, linecolor="#222", linewidth=1.4,
            showgrid=False, zeroline=False,
        )
        ty = {0: 108, 1: 222, 2: 338, 3: 452, 4: 567}[r]
        annotations.append(dict(xref="paper", yref="paper", x=px(left + 7 if c == 0 else left + 15), y=py(ty),
                                xanchor="left", yanchor="middle", showarrow=False, align="left",
                                text="<b>" + (pp_half if c == 0 else bi_half)[r] + "</b>",
                                font=dict(size=13, color="#111", family=FONT)))
    top, bot = row_px[r]
    annotations.append(dict(xref="paper", yref="paper", x=px(11), y=py((top + bot) / 2 - 2),
                            xanchor="center", yanchor="middle", showarrow=False, textangle=-90,
                            text="ln (C/pg m<sup>-3</sup>)", font=dict(size=15, color="#111", family=FONT)))
    cy = [60, 166, 291, 399, 522][r]
    annotations.append(dict(xref="paper", yref="paper", x=px(560), y=py(cy), xanchor="left", yanchor="middle",
                            showarrow=False, align="left", text="<b>" + compounds[r] + "</b>",
                            font=dict(size=10.5, color="#111", family=FONT)))

annotations.append(dict(xref="paper", yref="paper", x=px(43), y=py(7), xanchor="left", yanchor="middle",
                        showarrow=False, align="left", text="<b>Point Petre</b>",
                        font=dict(size=14, color="#111", family=FONT)))
annotations.append(dict(xref="paper", yref="paper", x=px(302), y=py(7), xanchor="left", yanchor="middle",
                        showarrow=False, align="left", text="<b>Burnt Island</b>",
                        font=dict(size=14, color="#111", family=FONT)))
annotations.append(dict(xref="paper", yref="paper", x=px(140), y=py(600), xanchor="center", yanchor="middle",
                        showarrow=False, text="Sampling year", font=dict(size=13, color="#111", family=FONT)))
annotations.append(dict(xref="paper", yref="paper", x=px(412), y=py(600), xanchor="center", yanchor="middle",
                        showarrow=False, text="Sampling year", font=dict(size=13, color="#111", family=FONT)))

shapes = []
shapes.append(dict(type="rect", xref="paper", yref="paper", x0=px(395.3), x1=px(398.3), y0=py(7), y1=py(4),
                   fillcolor=BLUE, line=dict(width=0)))
leg = [(403, "Measured", None), (460, "Seasonal&nbsp; Cycle", (450, 460, RED)),
       (540, "Trend", (530.5, 540, GREEN)), (579.5, "MDL", (570, 580, PURPLE))]
for tx, txt, ln in leg:
    if ln is not None:
        shapes.append(dict(type="line", xref="paper", yref="paper", x0=px(ln[0]), x1=px(ln[1]),
                           y0=py(5.5), y1=py(5.5), line=dict(color=ln[2], width=2)))
    annotations.append(dict(xref="paper", yref="paper", x=px(tx), y=py(5.5), xanchor="left", yanchor="middle",
                            showarrow=False, align="left", text=txt,
                            font=dict(size=8.5, color="#222", family=FONT)))

layout.update(dict(width=W, height=H, margin=dict(l=0, r=0, t=0, b=0), paper_bgcolor="white",
                   plot_bgcolor="white", showlegend=False, annotations=annotations, shapes=shapes,
                   font=dict(family=FONT)))
fig.update_layout(**layout)
fig.write_html("out.html", config={"displayModeBar": False},
               post_script="document.body.style.margin='0';document.body.style.padding='0';")
